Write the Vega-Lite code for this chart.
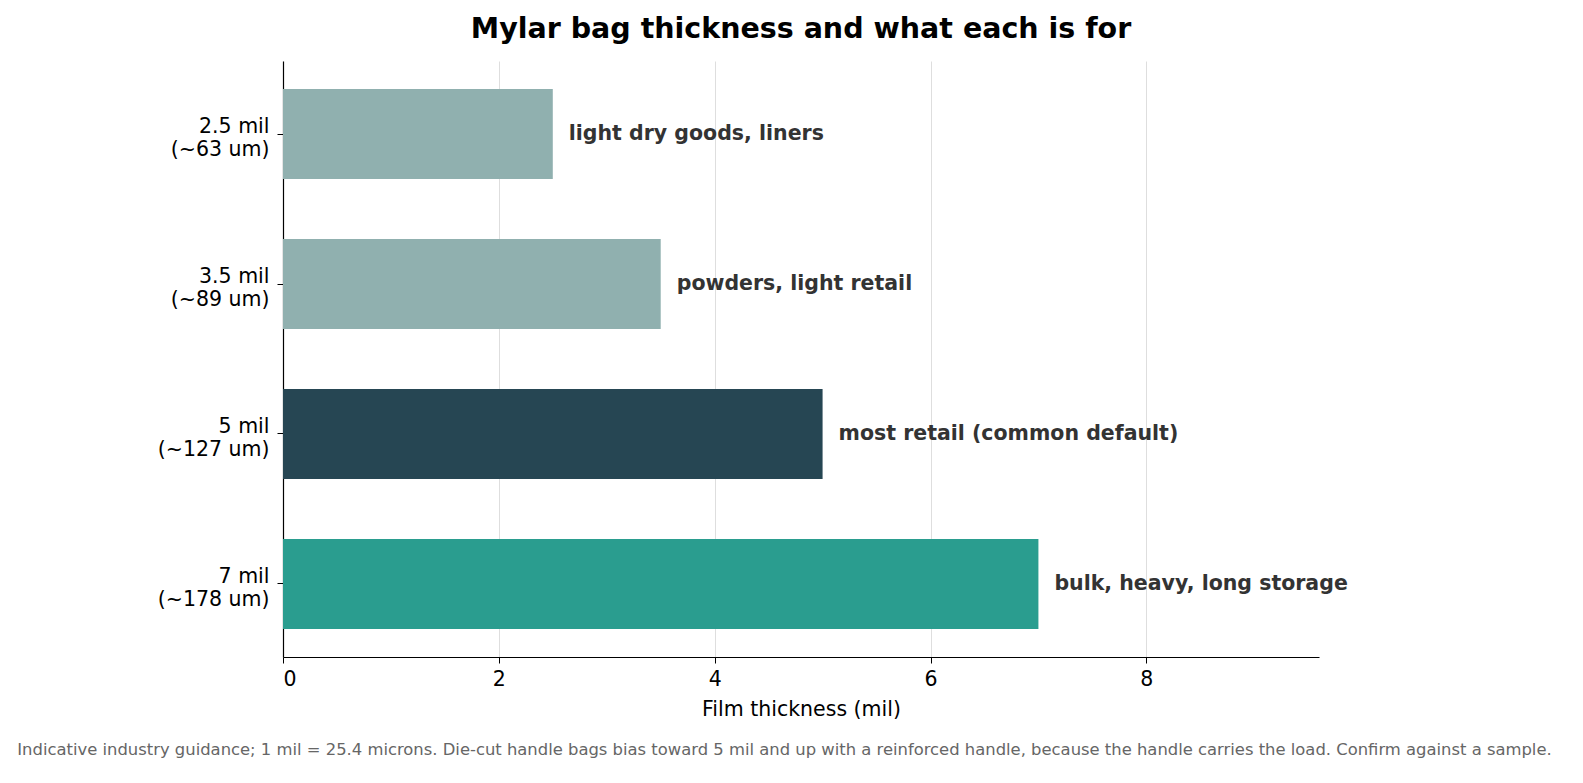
{
  "$schema": "https://vega.github.io/schema/vega-lite/v6.json",
  "background": "white",
  "autosize": {"type": "none"},
  "padding": {"left": 283, "top": 61, "right": 264, "bottom": 126},
  "width": 1036,
  "height": 596,
  "title": {
    "text": "Mylar bag thickness and what each is for",
    "font": "DejaVu Sans",
    "fontSize": 28.5,
    "fontWeight": "bold",
    "color": "black",
    "anchor": "middle",
    "offset": 18
  },
  "config": {
    "view": {"stroke": null},
    "font": "DejaVu Sans"
  },
  "data": {
    "values": [
      {"label": "2.5 mil\n(~63 um)", "mil": 2.5, "use": "light dry goods, liners", "group": "light"},
      {"label": "3.5 mil\n(~89 um)", "mil": 3.5, "use": "powders, light retail", "group": "light"},
      {"label": "5 mil\n(~127 um)", "mil": 5, "use": "most retail (common default)", "group": "default"},
      {"label": "7 mil\n(~178 um)", "mil": 7, "use": "bulk, heavy, long storage", "group": "heavy"}
    ]
  },
  "layer": [
    {
      "mark": {"type": "bar"},
      "encoding": {
        "y": {
          "field": "label",
          "type": "nominal",
          "sort": null,
          "scale": {"paddingInner": 0.4, "paddingOuter": 0.187},
          "axis": {
            "title": null,
            "labelExpr": "split(datum.label, '\\n')",
            "labelFont": "DejaVu Sans",
            "labelFontSize": 20.5,
            "labelColor": "black",
            "labelPadding": 8,
            "labelLineHeight": 23,
            "labelOffset": -7,
            "tickSize": 6,
            "tickColor": "black",
            "domainColor": "black",
            "domainWidth": 1.2,
            "grid": false
          }
        },
        "x": {
          "field": "mil",
          "type": "quantitative",
          "scale": {"domain": [0, 9.6], "nice": false},
          "axis": {
            "title": "Film thickness (mil)",
            "values": [0, 2, 4, 6, 8],
            "labelFont": "DejaVu Sans",
            "labelFontSize": 20.5,
            "labelColor": "black",
            "labelPadding": 6,
            "titleFont": "DejaVu Sans",
            "titleFontSize": 20.5,
            "titleFontWeight": "normal",
            "titleColor": "black",
            "titlePadding": 10,
            "tickSize": 6,
            "tickColor": "black",
            "domainColor": "black",
            "domainWidth": 1.2,
            "grid": true,
            "gridColor": "#dedede",
            "gridWidth": 1
          }
        },
        "color": {
          "field": "group",
          "type": "nominal",
          "legend": null,
          "scale": {
            "domain": ["light", "default", "heavy"],
            "range": ["#90b0af", "#264653", "#2a9d8f"]
          }
        }
      }
    },
    {
      "mark": {
        "type": "text",
        "align": "left",
        "baseline": "middle",
        "dx": 16,
        "font": "DejaVu Sans",
        "fontSize": 20.5,
        "fontWeight": "bold",
        "color": "#333333"
      },
      "encoding": {
        "y": {"field": "label", "type": "nominal", "sort": null},
        "x": {
          "field": "mil",
          "type": "quantitative",
          "axis": {
            "orient": "bottom",
            "title": "Indicative industry guidance; 1 mil = 25.4 microns. Die-cut handle bags bias toward 5 mil and up with a reinforced handle, because the handle carries the load. Confirm against a sample.",
            "labels": false,
            "ticks": false,
            "domain": false,
            "grid": false,
            "titleFont": "DejaVu Sans",
            "titleFontSize": 16.4,
            "titleFontWeight": "normal",
            "titleColor": "#666666",
            "titlePadding": 84,
            "titleX": 501
          }
        },
        "text": {"field": "use"}
      }
    }
  ],
  "resolve": {"axis": {"x": "independent"}}
}
